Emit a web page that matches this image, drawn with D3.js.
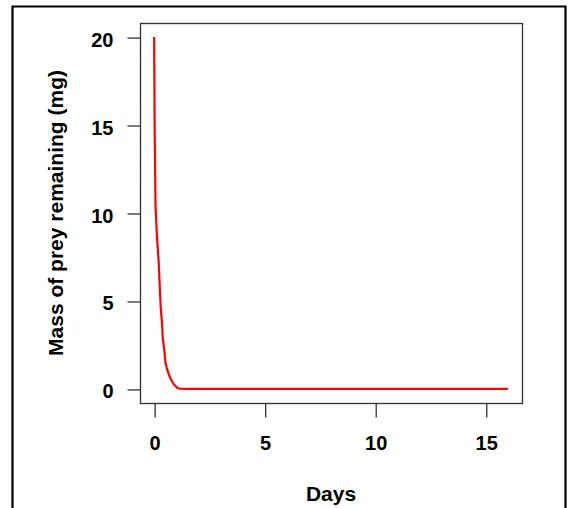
<!DOCTYPE html>
<html>
<head>
<meta charset="utf-8">
<script src="https://cdn.jsdelivr.net/npm/d3@7"></script>
<style>
  html, body { margin: 0; padding: 0; background: #fff; }
  svg { display: block; }
  text { font-family: "Liberation Sans", Arial, sans-serif; font-weight: bold; fill: #000; }
</style>
</head>
<body>
<svg id="chart" width="569" height="508"></svg>
<script>
// Data
const days = [0, 0.02, 0.06, 0.12, 0.21, 0.26, 0.30, 0.35, 0.39, 0.46, 0.51, 0.57, 0.62, 0.70, 0.80, 0.90, 1.00, 1.07, 1.15, 1.5, 16];
const mass = [20, 15.3, 10.5, 8.8, 7.1, 5.6, 4.6, 3.8, 2.9, 2.2, 1.5, 1.2, 1.0, 0.7, 0.45, 0.25, 0.12, 0.05, 0.02, 0, 0];
const xTicks = [0, 5, 10, 15];
const yTicks = [0, 5, 10, 15, 20];
const xTitle = "Days";
const yTitle = "Mass of prey remaining (mg)";

const svg = d3.select("#chart");
const box = { left: 140, right: 522, top: 23, bottom: 403 };

// R-style 4% axis extension
const xs = d3.scaleLinear().domain([-0.64, 16.64]).range([box.left, box.right]);
const ys = d3.scaleLinear().domain([-0.8, 20.8]).range([box.bottom, box.top]);

// outer frame (no bottom edge visible)
svg.append("path")
  .attr("d", `M12.5,508 L12.5,6.5 L565.5,6.5 L565.5,508`)
  .attr("fill", "none").attr("stroke", "#000").attr("stroke-width", 2.2);

// curve
const line = d3.line().x((d, i) => xs(days[i])).y(d => ys(d));
svg.append("path")
  .attr("d", line(mass))
  .attr("fill", "none").attr("stroke", "#ff0000").attr("stroke-width", 2.2)
  .attr("stroke-linejoin", "round");

// plot box
svg.append("rect")
  .attr("x", box.left + 0.5).attr("y", box.top + 0.5)
  .attr("width", box.right - box.left).attr("height", box.bottom - box.top)
  .attr("fill", "none").attr("stroke", "#333").attr("stroke-width", 1.3);

// x axis
const xAxis = d3.axisBottom(xs).tickValues(xTicks).tickSize(14).tickPadding(20).tickFormat(d3.format("d"));
const gx = svg.append("g").attr("transform", `translate(0.5,${box.bottom + 0.5})`).call(xAxis);
gx.select(".domain").remove();
gx.selectAll(".tick line").attr("stroke", "#333").attr("stroke-width", 1.3);
gx.selectAll(".tick text").attr("font-size", 20).attr("dy", null).attr("y", 46.5)
  .style("font-family", '"Liberation Sans", Arial, sans-serif').style("font-weight", "bold").attr("fill", "#000");

// y axis
const yAxis = d3.axisLeft(ys).tickValues(yTicks).tickSize(13).tickPadding(14).tickFormat(d3.format("d"));
const gy = svg.append("g").attr("transform", `translate(${box.left + 0.5},0.5)`).call(yAxis);
gy.select(".domain").remove();
gy.selectAll(".tick line").attr("stroke", "#333").attr("stroke-width", 1.3);
gy.selectAll(".tick text").attr("font-size", 20).attr("dy", null).attr("y", 8.5).attr("x", -27)
  .style("font-family", '"Liberation Sans", Arial, sans-serif').style("font-weight", "bold").attr("fill", "#000");

// titles
svg.append("text")
  .attr("x", (box.left + box.right) / 2).attr("y", 501)
  .attr("text-anchor", "middle").attr("font-size", 21).text(xTitle);

svg.append("text")
  .attr("transform", `translate(63,${(box.top + box.bottom) / 2}) rotate(-90)`)
  .attr("text-anchor", "middle").attr("font-size", 21).text(yTitle);
</script>
</body>
</html>
